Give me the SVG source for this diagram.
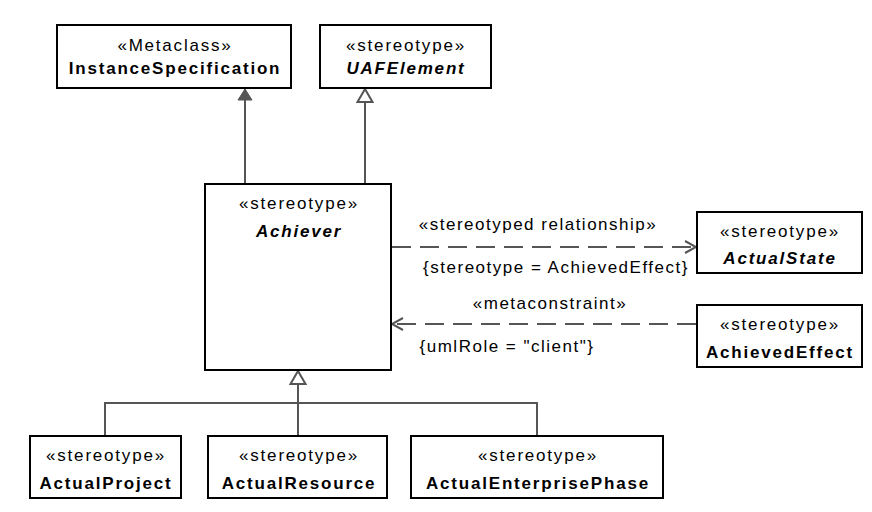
<svg xmlns="http://www.w3.org/2000/svg" width="872" height="512" viewBox="0 0 872 512">
<style>
.box{fill:#fff;stroke:#000;stroke-width:2}
text{font-family:"Liberation Sans",Arial,sans-serif;font-size:17px;fill:#000;text-anchor:middle;letter-spacing:1.8px}
.name{font-weight:bold}
.abs{font-weight:bold;font-style:italic}
.lbl{letter-spacing:1.5px}
.con{fill:none;stroke:#555;stroke-width:2}
.dash{stroke-dasharray:19 9}
</style>
<defs>
<marker id="filled" markerWidth="16" markerHeight="16" refX="12" refY="8" orient="auto" markerUnits="userSpaceOnUse">
<path d="M1,1 L12,8 L1,15 Z" fill="#555" stroke="#555" stroke-width="1"/>
</marker>
<marker id="hollow" markerWidth="16" markerHeight="18" refX="14" refY="9" orient="auto" markerUnits="userSpaceOnUse">
<path d="M1,1.5 L14,9 L1,16.5 Z" fill="#fff" stroke="#555" stroke-width="2"/>
</marker>
<marker id="open" markerWidth="14" markerHeight="14" refX="12" refY="7" orient="auto" markerUnits="userSpaceOnUse">
<path d="M1,1 L12,7 L1,13" fill="none" stroke="#555" stroke-width="2"/>
</marker>
</defs>
<g id="connectors">
<line class="con" x1="245" y1="184" x2="245" y2="89" marker-end="url(#filled)"/>
<line class="con" x1="365" y1="184" x2="365" y2="89" marker-end="url(#hollow)"/>
<path class="con" d="M105,436 V403 H537 V436 M298,436 V403"/>
<line class="con" x1="298" y1="403" x2="298" y2="371" marker-end="url(#hollow)"/>
<line class="con dash" x1="392" y1="247" x2="696" y2="247" marker-end="url(#open)"/>
<line class="con dash" x1="696" y1="324" x2="392" y2="324" marker-end="url(#open)"/>
<text class="lbl" x="538" y="230">«stereotyped relationship»</text>
<text class="lbl" x="556" y="273">{stereotype = AchievedEffect}</text>
<text class="lbl" x="550" y="309">«metaconstraint»</text>
<text class="lbl" x="507" y="352">{umlRole = "client"}</text>
</g>
<g id="InstanceSpecification">
<rect class="box" x="57" y="25" width="234" height="63"/>
<text x="175" y="51">«Metaclass»</text>
<text class="name" x="175" y="74">InstanceSpecification</text>
</g>
<g id="UAFElement">
<rect class="box" x="320" y="25" width="171" height="63"/>
<text x="406" y="51">«stereotype»</text>
<text class="abs" x="406" y="74">UAFElement</text>
</g>
<g id="Achiever">
<rect class="box" x="205" y="184" width="186" height="186"/>
<text x="299" y="209">«stereotype»</text>
<text class="abs" x="299" y="237">Achiever</text>
</g>
<g id="ActualState">
<rect class="box" x="697" y="212" width="165" height="61"/>
<text x="780" y="237">«stereotype»</text>
<text class="abs" x="780" y="264">ActualState</text>
</g>
<g id="AchievedEffect">
<rect class="box" x="697" y="305" width="165" height="62"/>
<text x="780" y="330">«stereotype»</text>
<text class="name" x="780" y="358">AchievedEffect</text>
</g>
<g id="ActualProject">
<rect class="box" x="30" y="436" width="151" height="62"/>
<text x="106" y="461">«stereotype»</text>
<text class="name" x="106" y="489">ActualProject</text>
</g>
<g id="ActualResource">
<rect class="box" x="208" y="436" width="179" height="62"/>
<text x="299" y="461">«stereotype»</text>
<text class="name" x="299" y="489">ActualResource</text>
</g>
<g id="ActualEnterprisePhase">
<rect class="box" x="411" y="436" width="252" height="62"/>
<text x="538" y="461">«stereotype»</text>
<text class="name" x="538" y="489">ActualEnterprisePhase</text>
</g>
</svg>
